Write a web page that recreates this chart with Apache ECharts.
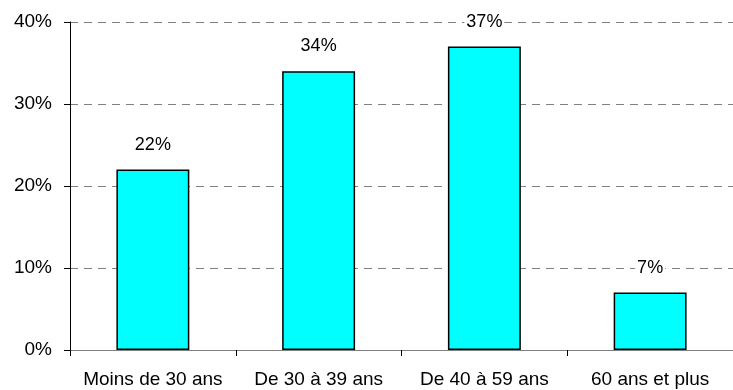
<!DOCTYPE html>
<html>
<head>
<meta charset="utf-8">
<script src="https://cdn.jsdelivr.net/npm/echarts@6/dist/echarts.min.js"></script>
<style>
  html, body { margin: 0; padding: 0; background: #fff; }
  #chart { width: 733px; height: 390px; }
</style>
</head>
<body>
<div id="chart"></div>
<script>
// tranches d'âge et parts (%)
const categories = ['Moins de 30 ans', 'De 30 à 39 ans', 'De 40 à 59 ans', '60 ans et plus']
const values = [22, 34, 37, 7]
const yTicks = [0, 10, 20, 30, 40]

const chart = echarts.init(document.getElementById('chart'))

const font = 'Liberation Sans, Arial, sans-serif'

const option = {
  animation: false,
  grid: { left: 70, top: 22, width: 667, height: 328, containLabel: false },
  xAxis: {
    type: 'category',
    data: categories,
    axisLine: { lineStyle: { color: '#808080', width: 1 } },
    axisTick: { show: true, interval: 0, inside: false, length: 6, lineStyle: { color: '#000' } },
    axisLabel: {
      interval: 0,
      hideOverlap: false,
      color: '#000',
      fontFamily: font,
      fontSize: 19,
      margin: 20
    }
  },
  yAxis: {
    type: 'value',
    min: yTicks[0],
    max: yTicks[yTicks.length - 1],
    interval: 10,
    axisLine: { show: true, lineStyle: { color: '#000', width: 1 } },
    axisTick: { show: true, length: 6, lineStyle: { color: '#000' } },
    axisLabel: {
      color: '#000',
      fontFamily: font,
      fontSize: 19,
      margin: 18,
      formatter: v => v + '%'
    },
    splitLine: {
      show: true,
      lineStyle: { color: '#808080', type: [8, 6], width: 1 }
    }
  },
  series: [{
    type: 'bar',
    data: values,
    barWidth: '44%',
    itemStyle: { color: '#00ffff', borderColor: '#000', borderWidth: 1.5 },
    label: {
      show: true,
      position: 'top',
      distance: 16,
      color: '#000',
      fontFamily: font,
      fontSize: 18,
      backgroundColor: '#fff',
      padding: [0, 2],
      formatter: p => p.value + '%'
    }
  }]
}

chart.setOption(option)
</script>
</body>
</html>
